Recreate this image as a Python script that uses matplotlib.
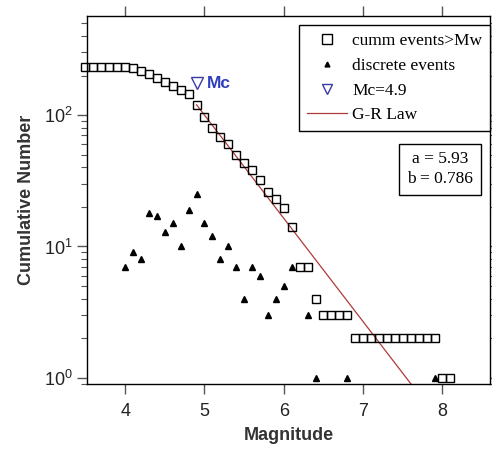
import numpy as np
import matplotlib
matplotlib.use("Agg")
import matplotlib.pyplot as plt
from matplotlib.lines import Line2D

plt.rcParams["font.family"] = ["Liberation Sans", "DejaVu Sans"]

# cumulative number of events with magnitude >= Mw
cum_mag = [3.5, 3.6, 3.7, 3.8, 3.9, 4.0, 4.1, 4.2, 4.3, 4.4, 4.5, 4.6, 4.7, 4.8,
           4.9, 5.0, 5.1, 5.2, 5.3, 5.4, 5.5, 5.6, 5.7, 5.8, 5.9, 6.0, 6.1,
           6.2, 6.3, 6.4, 6.5, 6.6, 6.7, 6.8,
           6.9, 7.0, 7.1, 7.2, 7.3, 7.4, 7.5, 7.6, 7.7, 7.8, 7.9, 8.0, 8.1]
cum_count = [232, 232, 232, 232, 232, 232, 228, 216, 205, 191, 178, 166, 155, 145,
             119, 97, 80, 68, 60, 50, 43, 38, 32, 26, 23, 19.6, 14,
             7, 7, 4, 3, 3, 3, 3,
             2, 2, 2, 2, 2, 2, 2, 2, 2, 2, 2, 1, 1]

# discrete events per magnitude bin
disc_mag = [4.0, 4.1, 4.2, 4.3, 4.4, 4.5, 4.6, 4.7, 4.8, 4.9, 5.0, 5.1, 5.2, 5.3,
            5.4, 5.5, 5.6, 5.7, 5.8, 5.9, 6.0, 6.1, 6.3, 6.4, 6.8, 7.9]
disc_count = [7, 9, 8, 18, 17, 13, 15, 10, 19, 25, 15, 12, 8, 10,
              7, 4, 7, 6, 3, 4, 5, 7, 3, 1, 1, 1]

mc_mag = 4.9
mc_count = 175
a_val = 5.93
b_val = 0.786
gr_range = [4.9, 7.7]

fig = plt.figure(figsize=(4.92, 4.49), dpi=100)
ax = fig.add_axes([0.177, 0.145, 0.819, 0.819])
ax.set_yscale("log")

ax.plot(cum_mag, cum_count, ls="none", marker="s", ms=6.2, mfc="none",
        mec="black", mew=1.0, clip_on=False, zorder=3)
ax.plot(disc_mag, disc_count, ls="none", marker="^", ms=3.8, color="black",
        clip_on=False, zorder=3)
ax.plot([mc_mag], [mc_count], ls="none", marker="v", ms=8, mfc="none",
        mec="#3a3aa8", mew=1.0, zorder=4)
ax.text(mc_mag + 0.13, mc_count, "Mc", color="#2f3fbf", fontsize=12.5,
        fontweight="bold", va="center", ha="left")

gr_m = np.linspace(gr_range[0], gr_range[1], 50)
ax.plot(gr_m, 10 ** (a_val - b_val * gr_m), color="#b03a3a", lw=0.9, zorder=2)

ax.set_xlim(3.52, 8.6)
ax.set_ylim(0.9, 566)
ax.set_xticks([4, 5, 6, 7, 8])
ax.tick_params(which="both", direction="out", top=True, right=True,
               labeltop=False, labelright=False, colors="#555555",
               labelcolor="#222222", labelsize=13)
ax.tick_params(which="major", length=7, width=1.0)
ax.tick_params(which="minor", length=4, width=0.8)
ax.tick_params(axis="x", which="minor", top=False, bottom=False)
ax.tick_params(axis="x", which="major", pad=7)
for s in ax.spines.values():
    s.set_linewidth(1.0)

ax.set_xlabel("Magnitude", fontsize=13, fontweight="bold", color="#333333",
              labelpad=5)
ax.set_ylabel("Cumulative Number", fontsize=13, fontweight="bold",
              color="#333333", labelpad=6)

handles = [
    Line2D([], [], ls="none", marker="s", ms=7, mfc="none", mec="black", mew=1.0),
    Line2D([], [], ls="none", marker="^", ms=3.5, color="black"),
    Line2D([], [], ls="none", marker="v", ms=7, mfc="none", mec="#3a3aa8", mew=1.0),
    Line2D([], [], color="#b03a3a", lw=0.9),
]
labels = ["cumm events>Mw", "discrete events", "Mc=4.9", "G-R Law"]
leg = ax.legend(handles, labels, loc="upper right", bbox_to_anchor=(1.0, 0.976),
                borderaxespad=0, fancybox=False, edgecolor="black", framealpha=1,
                prop={"family": "Liberation Serif", "size": 12.5},
                handlelength=2.3, handletextpad=0.3, labelspacing=0.5,
                borderpad=0.45)
leg.get_frame().set_linewidth(1.0)

ax.text(0.876, 0.584, "a = 5.93\nb = 0.786", transform=ax.transAxes,
        ha="center", va="center", family="Liberation Serif", fontsize=12.5,
        linespacing=1.3,
        bbox=dict(boxstyle="square,pad=0.45", fc="white", ec="black", lw=1.0))

fig.savefig("out.png", dpi=100, facecolor="white")
